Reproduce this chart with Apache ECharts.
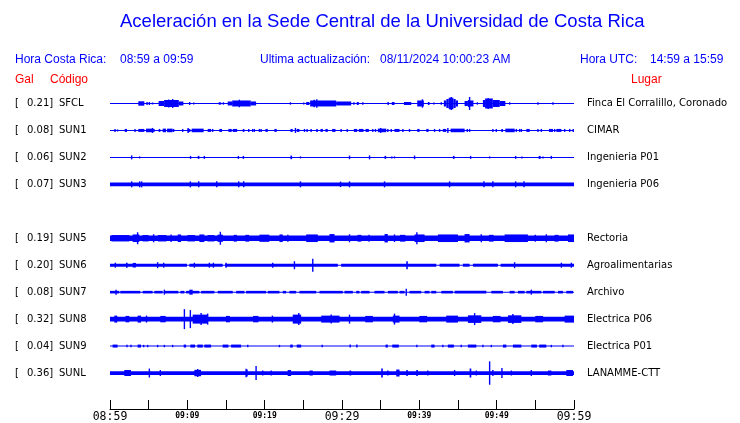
<!DOCTYPE html>
<html>
<head>
<meta charset="utf-8">
<script src="https://cdn.jsdelivr.net/npm/echarts@6/dist/echarts.min.js"></script>
<style>html,body{margin:0;padding:0;background:#fff}#c{width:740px;height:423px}</style>
</head>
<body>
<div id="c"></div>
<script>
// ---- data ----
const stationCodes = ['SFCL','SUN1','SUN2','SUN3','','SUN5','SUN6','SUN7','SUN8','SUN9','SUNL'];
const galValues    = ['0.21','0.08','0.06','0.07','','0.19','0.20','0.08','0.32','0.04','0.36'];
const places = ['Finca El Corralillo, Coronado','CIMAR','Ingenieria P01','Ingenieria P06','','Rectoria','Agroalimentarias','Archivo','Electrica P06','Electrica P01','LANAMME-CTT'];
const timeTickLabels = ['08:59','','09:09','','09:19','','09:29','','09:39','','09:49','','09:59'];
const majorTickLabels = ['08:59','09:29','09:59'];
const headerTexts = {
  title: 'Aceleración en la Sede Central de la Universidad de Costa Rica',
  crLabel: 'Hora Costa Rica:', crRange: '08:59 a 09:59',
  updLabel: 'Ultima actualización:', updValue: '08/11/2024 10:00:23 AM',
  utcLabel: 'Hora UTC:', utcRange: '14:59 a 15:59'
};

// Waveform envelopes: [startMinute, endMinute, halfAmplitude] or [minute, halfAmplitude] (spike)
const sfclWave = [[3.66,4.44,2.2],[4.79,1.5],[5.0,5.18,1.5],[5.5,1],[6.29,7.0,2.5],[7.0,8.9,3.5],[7.6,4],[8.1,4.5],[8.9,9.49,2],[10.3,1.5],[10.82,1],[14.05,14.37,1.2],[14.66,1.2],[15.22,15.8,2],[15.8,18.2,3],[16.73,3.8],[18.2,18.89,2],[23.33,1.2],[25.05,1],[25.37,25.79,1.5],[25.88,29.25,3],[26.4,3.8],[26.74,4.2],[29.25,31.19,2],[31.53,1.2],[31.91,32.17,1.5],[32.69,1.2],[35.89,36.05,1.5],[36.44,36.79,1.5],[38.0,38.95,1.5],[39.73,40.58,3],[40.4,4.2],[41.1,41.32,1.5],[41.88,1],[42.84,1.2],[43.17,43.5,3],[43.5,43.8,4.5],[43.8,44.4,5.8],[44.13,6.5],[44.4,44.7,4.5],[44.7,45.0,3],[45.85,46.28,2.5],[46.28,46.5,3.5],[46.5,6.5],[46.5,47.0,3],[47.5,1.2],[48.22,48.5,3.5],[48.5,49.5,5],[48.9,5.5],[49.5,50.4,3.5],[50.4,51.12,2.5],[51.68,1.2],[55.34,1.2],[57.28,1.2]];
const sun1Wave = [[0.65,1.5],[0.98,1],[1.9,2.2,1.5],[3.24,1.5],[3.66,4.44,1.5],[4.66,5.51,1.8],[5.5,2.5],[5.56,5.77,1.5],[6.29,6.51,1.5],[6.81,7.25,1.8],[7.38,8.1,1.8],[8.23,1.5],[9.4,1.5],[10.04,10.39,1.5],[10.1,2.5],[10.56,12.11,1.8],[12.63,13.07,1.5],[13.28,1.5],[14.14,14.49,1.5],[15.31,15.74,1.5],[15.87,16.44,1.5],[17.16,17.38,1.5],[17.94,1.5],[18.45,1.5],[18.67,1.5],[19.32,1.5],[19.54,1.5],[20.1,20.4,1.5],[21.26,21.56,1.5],[23.33,23.63,1.5],[23.98,2.5],[24.15,24.5,1.5],[25.15,1.5],[25.49,1.5],[26.01,1.5],[26.66,26.87,1.5],[27.22,27.52,1.5],[27.86,28.16,1.5],[28.73,29.16,1.5],[29.89,1.5],[30.67,1.5],[31.53,31.97,1.5],[32.17,32.78,1.5],[33.04,33.47,1.5],[33.98,1.5],[34.33,1.5],[34.63,35.72,1.8],[35.0,2.5],[35.93,1.5],[36.37,1.5],[36.79,37.44,1.5],[37.87,1.5],[38.73,1.5],[39.73,40.03,1.5],[40.9,41.2,1.5],[41.97,1.5],[42.62,1.5],[43.04,43.48,1.5],[43.69,2.5],[44.04,45.86,1.8],[46.2,1.5],[46.5,1.5],[49.51,1.5],[49.95,1.5],[50.6,50.81,1.5],[51.12,52.33,1.8],[52.54,1.5],[52.97,1.5],[53.19,1.5],[53.84,54.27,1.5],[55.34,1.5],[55.78,1.5],[56.76,57.28,1.5],[57.5,1.5],[57.72,58.37,1.5],[58.79,1.5],[59.44,1.5],[59.9,1.5]];
const sun2Wave = [[2.8,2],[3.83,1],[10.35,10.48,1.5],[11.34,11.56,1.5],[12.2,1.5],[16.51,16.69,1.5],[17.25,1.5],[23.33,23.55,1.8],[24.63,1],[30.97,1.8],[33.56,2],[35.5,35.72,1.5],[36.44,1],[36.79,1],[39.38,1.8],[44.34,44.56,1.5],[46.63,1.5],[49.09,1],[52.45,1.5],[53.27,1],[55.43,55.69,1.5],[55.99,1],[57.07,1.5]];
const sun3Wave = [[0,60,1.8],[2.8,3],[3.83,3],[4.09,3],[10.39,3],[11.47,3],[13.8,3],[16.64,3],[17.29,3],[24.63,3],[29.81,2.8],[30.97,3],[35.5,3],[43.91,3],[48.35,3],[49.51,3],[52.45,3],[53.53,3]];
const sun5Wave = [[0,60,2.7],[0.2,2.5,3.2],[2.93,3.79,3.8],[3.57,6],[4.2,5.0,3.2],[5.64,4],[6.2,7.3,3.2],[7.9,3.8],[8.75,9.19,3.8],[10.0,11.0,3.2],[11.56,12.2,3.8],[12.6,13.5,3.2],[13.9,14.6,3.6],[14.27,6.5],[16.0,16.4,3.4],[17.5,18.0,3.4],[19.32,20.6,3.6],[21.91,22.34,3.8],[23.0,3.5],[25.37,26.87,3.8],[28.38,29.03,4.2],[30.97,4],[32.0,32.5,3.4],[33.5,3.5],[35.5,35.93,4.2],[36.79,3.8],[37.5,38.2,3.4],[39.38,40.68,3.8],[39.68,6],[42.4,44.99,3.8],[45.85,46.5,4.2],[48.01,4],[49.0,49.6,3.4],[51.03,54.04,3.8],[55.0,3.5],[56.42,4],[57.5,58.0,3.4],[59.22,60,3.8]];
const sun6Wave = [[0,9.96,1.5],[10.26,14.57,1.5],[14.88,29.46,1.5],[29.89,42.19,1.5],[42.62,45.2,1.5],[45.63,46.5,1.5],[46.93,50.16,1.5],[50.51,60,1.5],[0.69,2.5],[2.07,2.28,2.5],[2.93,3.36,2.3],[6.16,3],[6.94,2.5],[10.91,2.5],[12.85,2.5],[13.37,2.5],[15.01,2.5],[21.04,2.5],[23.85,4],[26.22,6.5],[38.31,38.51,4],[52.32,3],[58.37,2.5],[59.66,2.5]];
const sun7Wave = [[0,1.2,1.3],[1.33,3.92,1.3],[4.22,5.51,1.3],[5.73,6.81,1.3],[7.03,8.84,1.3],[9.1,9.62,1.3],[9.84,11.56,1.3],[11.78,13.5,1.3],[13.93,15.87,1.3],[16.31,17.38,1.3],[17.6,20.19,1.3],[20.4,21.91,1.3],[22.34,22.78,1.3],[23.2,24.07,1.3],[24.5,26.66,1.3],[27.09,30.1,1.3],[30.32,31.4,1.3],[31.84,32.26,1.3],[32.48,33.56,1.3],[34.2,35.5,1.3],[35.93,37.22,1.3],[37.44,38.09,1.3],[38.73,40.25,1.3],[40.68,41.32,1.3],[41.54,42.19,1.3],[42.84,44.34,1.3],[44.56,48.66,1.3],[49.31,50.81,1.3],[51.68,52.32,1.3],[52.75,53.62,1.3],[53.84,55.78,1.3],[55.99,57.5,1.3],[57.93,58.57,1.3],[59.01,59.87,1.3],[0.78,2.5],[7.03,2.5],[10.26,10.69,2.5],[38.31,3.5],[54.48,2.5]];
const sun8Wave = [[0,60,2.3],[0.56,0.94,3.5],[2.0,2.5,3.2],[3.57,4.01,3.5],[4.72,3.5],[6.5,7.2,3.2],[9.62,10],[10.39,9],[10.69,12.63,4.5],[11.78,6],[12.63,5.5],[15.0,15.5,3.2],[18.5,19.2,3.2],[21.0,3.5],[23.63,24.72,4.5],[24.41,6],[27.31,29.68,3.5],[28.6,4.5],[30.97,4.5],[33.0,34.0,3.2],[36.57,37.44,3.5],[36.79,5.5],[40.0,41.0,3.2],[43.48,44.99,3.5],[46.28,48.01,3.8],[47.15,6],[49.5,50.5,3.2],[51.46,53.19,3.8],[52.1,5],[55.0,56.0,3.2],[58.79,60,3.5]];
const sun9Wave = [[0.34,0.98,1.5],[2.2,1.2],[2.72,1.2],[3.57,4.01,1.5],[4.35,1.2],[4.87,1.2],[6.16,1.2],[7.03,1.2],[8.1,1.2],[9.53,9.84,1.5],[10.39,11.0,1.5],[11.3,12.0,1.5],[12.2,13.07,1.5],[14.57,15.31,1.5],[15.66,16.95,1.5],[17.81,1.2],[21.91,1.2],[23.3,23.63,1.5],[24.15,24.72,1.5],[27.44,1.2],[31.06,1.5],[31.92,1.5],[35.63,35.93,1.5],[36.5,37.35,1.5],[39.68,1.2],[41.54,41.97,1.5],[43.04,1.2],[43.69,44.47,1.5],[45.42,1.2],[46.28,47.37,1.5],[48.22,1.2],[49.31,1.2],[50.81,51.25,1.5],[52.1,53.19,1.5],[54.48,55.2,1.5],[55.5,56.42,1.5],[57.07,1.2],[58.57,1.2]];
const sunlWave = [[0,60,1.9],[1.85,2.72,3],[5.09,4.5],[6.51,3],[10.91,11.78,3.2],[11.34,4],[17.6,17.81,3.5],[17.6,4.3],[18.89,7],[19.75,2.5],[20.84,2.5],[22.98,23.42,3],[25.79,26.22,2.5],[28.38,29.25,2.5],[30.97,31.19,2.5],[35.07,35.28,4.5],[35.93,2.5],[37.01,37.44,3.5],[38.31,38.51,3],[39.6,39.81,3],[41.1,2.5],[44.56,3],[46.5,46.72,4.5],[47.37,2.5],[49.09,11.7],[49.51,3],[50.68,5],[51.9,2.5],[54.48,3],[56.63,57.07,2.5],[59.01,59.87,3]];

const waves = [sfclWave, sun1Wave, sun2Wave, sun3Wave, null, sun5Wave, sun6Wave, sun7Wave, sun8Wave, sun9Wave, sunlWave];

// ---- chart ----
const BLUE = '#0000ff', RED = '#ff0000';
const SLOT = 27; // value units per station row on the hidden y axis
const TOTAL_MIN = 60;

function norm(arr) {
  return arr.map(d => d.length === 2 ? [d[0], d[0], d[1]] : d);
}

function makeRender(slot) {
  const yc = slot * SLOT + SLOT / 2;
  return function (params, api) {
    const t0 = api.value(0), t1 = api.value(1), a = api.value(2);
    const p0 = api.coord([t0, yc - a]);
    const p1 = api.coord([t1, yc + a]);
    let x = Math.min(p0[0], p1[0]);
    let w = Math.abs(p1[0] - p0[0]);
    if (w < 1.4) { x = (p0[0] + p1[0]) / 2 - 0.7; w = 1.4; }
    const y = Math.min(p0[1], p1[1]);
    const h = Math.abs(p1[1] - p0[1]);
    return { type: 'rect', shape: { x: x, y: y, width: w, height: h }, style: { fill: BLUE } };
  };
}

const series = [];
waves.forEach((w, i) => {
  if (!w) return;
  series.push({
    type: 'custom', xAxisIndex: 0, yAxisIndex: 0, silent: true, clip: false, animation: false,
    renderItem: makeRender(i),
    data: [[0, TOTAL_MIN, 0.5]].concat(norm(w))
  });
});

const labelFont = 'DejaVu Sans';
const chart = echarts.init(document.getElementById('c'), null, { renderer: 'canvas' });
chart.setOption({
  animation: false,
  backgroundColor: '#fff',
  grid: { left: 110, right: 166, top: 90, height: SLOT * stationCodes.length, containLabel: false },
  xAxis: [{
    type: 'value', min: 0, max: TOTAL_MIN, interval: 5, offset: 22.5, position: 'bottom',
    axisLine: { show: true, onZero: false, lineStyle: { color: '#000', width: 1 } },
    axisTick: { show: true, inside: true, length: 9, lineStyle: { color: '#000', width: 1 } },
    splitLine: { show: false },
    axisLabel: {
      margin: 1, color: '#000',
      formatter: function (v) {
        const lab = timeTickLabels[Math.round(v / 5)] || '';
        if (!lab) return '';
        return majorTickLabels.indexOf(lab) >= 0 ? '{b|' + lab + '}' : '{s|' + lab + '}';
      },
      rich: {
        b: { fontFamily: 'DejaVu Sans Mono', fontSize: 11.5, color: '#000', lineHeight: 14 },
        s: { fontFamily: 'DejaVu Sans Mono', fontSize: 8, color: '#000', lineHeight: 12, fontWeight: 'bold' }
      }
    }
  }],
  yAxis: [
    { type: 'value', min: 0, max: SLOT * stationCodes.length, inverse: true, show: false },
    {
      type: 'category', data: stationCodes, inverse: true, position: 'left',
      axisLine: { show: false }, axisTick: { show: false }, splitLine: { show: false },
      axisLabel: {
        align: 'left', margin: 95, interval: 0,
        formatter: function (v, idx) {
          if (!galValues[idx]) return '';
          return '{a|[}{n|' + galValues[idx] + ']}{c|' + stationCodes[idx] + '}';
        },
        rich: {
          a: { width: 12, fontFamily: labelFont, fontSize: 10, color: '#000' },
          n: { width: 32, fontFamily: labelFont, fontSize: 10, color: '#000' },
          c: { fontFamily: labelFont, fontSize: 10, color: '#000' }
        }
      }
    },
    {
      type: 'category', data: places, inverse: true, position: 'right',
      axisLine: { show: false }, axisTick: { show: false }, splitLine: { show: false },
      axisLabel: { align: 'left', margin: 13, interval: 0, fontFamily: labelFont, fontSize: 10, color: '#000' }
    }
  ],
  graphic: [
    { type: 'text', x: 120, y: 22, style: { text: headerTexts.title, fill: BLUE, fontFamily: 'Liberation Sans', fontSize: 18.5, verticalAlign: 'middle' } },
    { type: 'text', x: 15, y: 60, style: { text: headerTexts.crLabel, fill: BLUE, fontFamily: 'Liberation Sans', fontSize: 12, verticalAlign: 'middle' } },
    { type: 'text', x: 120, y: 60, style: { text: headerTexts.crRange, fill: BLUE, fontFamily: 'Liberation Sans', fontSize: 12, verticalAlign: 'middle' } },
    { type: 'text', x: 260, y: 60, style: { text: headerTexts.updLabel, fill: BLUE, fontFamily: 'Liberation Sans', fontSize: 12, verticalAlign: 'middle' } },
    { type: 'text', x: 380, y: 60, style: { text: headerTexts.updValue, fill: BLUE, fontFamily: 'Liberation Sans', fontSize: 12, verticalAlign: 'middle' } },
    { type: 'text', x: 580, y: 60, style: { text: headerTexts.utcLabel, fill: BLUE, fontFamily: 'Liberation Sans', fontSize: 12, verticalAlign: 'middle' } },
    { type: 'text', x: 650, y: 60, style: { text: headerTexts.utcRange, fill: BLUE, fontFamily: 'Liberation Sans', fontSize: 12, verticalAlign: 'middle' } },
    { type: 'text', x: 15, y: 80, style: { text: 'Gal', fill: RED, fontFamily: 'Liberation Sans', fontSize: 12, verticalAlign: 'middle' } },
    { type: 'text', x: 50, y: 80, style: { text: 'Código', fill: RED, fontFamily: 'Liberation Sans', fontSize: 12, verticalAlign: 'middle' } },
    { type: 'text', x: 631, y: 80, style: { text: 'Lugar', fill: RED, fontFamily: 'Liberation Sans', fontSize: 12, verticalAlign: 'middle' } }
  ],
  series: series
});
</script>
</body>
</html>
